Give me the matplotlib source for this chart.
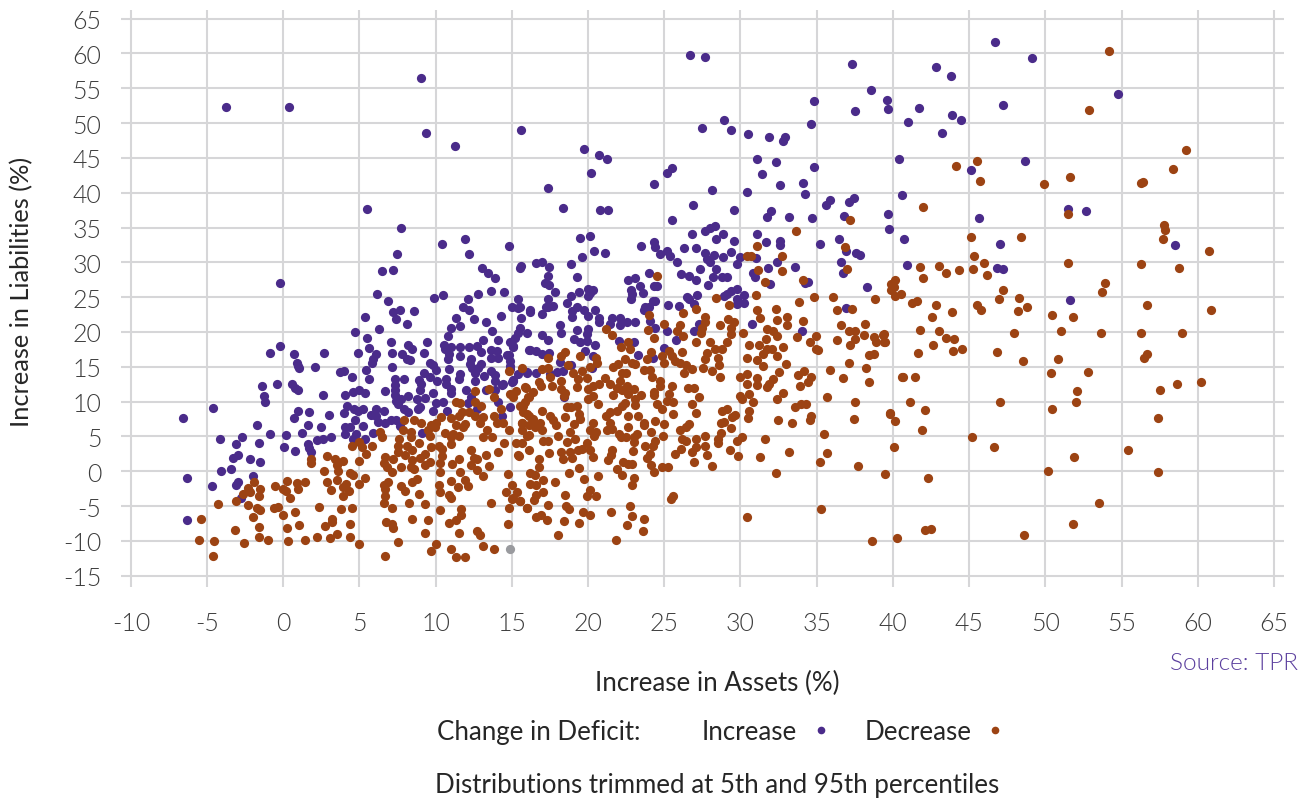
import numpy as np
import matplotlib
matplotlib.use("Agg")
import matplotlib.pyplot as plt
from matplotlib.lines import Line2D

# (assets %, liabilities %)
increase_pts = [
    (9.06,56.5),(-3.74,52.3),(0.35,52.3),(9.37,48.5),(11.25,46.7),(15.6,49.0),(5.47,37.6),(7.75,34.9),
    (10.44,32.6),(11.9,33.3),(12.2,31.2),(14.8,32.3),(7.44,31.2),(6.5,28.7),(7.18,28.9),(-0.2,27.0),
    (13.06,29.2),(13.4,28.5),(13.9,27.7),(15.6,29.5),(15.56,29.2),(6.15,25.5),(6.9,24.4),(9.9,24.9),
    (10.5,25.3),(12.1,24.8),(12.8,25.4),(13.6,25.9),(14.5,25.7),(15.4,24.8),(7.66,23.2),(8.6,23.0),
    (11.8,23.6),(12.2,23.1),(15,23.6),(15.5,23.6),(16.2,23.2),(5.36,22.2),(7.18,22.8),(7.4,21.8),
    (8.14,21.2),(11.3,22.0),(12.5,21.8),(13.3,21.5),(14.3,22.3),(15.6,22),(11,20.6),(11.6,20.9),
    (13.7,20.1),(15.5,20.6),(15.4,19.9),(16,19.8),(15.2,19.2),(10.8,19.4),(6.3,20.4),(4.7,20),
    (5.5,19.1),(7.05,18.5),(8.2,18.2),(8.45,17.5),(9.4,18.6),(10.55,18.2),(13.1,18.9),(14.1,18.8),
    (14.9,18.6),(15.1,17.9),(10.6,17.5),(11.0,17.8),(11.6,17.8),(12.2,17.8),(12.7,18),(13,17.2),
    (13.6,17.4),(14.05,17.3),(16.1,17.4),(9.2,17),(7.8,16.8),(7.1,17),(5.65,17.7),(4.9,17),(2.7,17),
    (0.68,16.8),(-0.2,18),(-0.85,17),(6.1,16.8),(5.9,16.1),(5.8,15.5),(8.1,16.1),(8.3,16),(10.9,16.8),
    (11.6,16.6),(12.3,16.1),(13.6,16.2),(14.1,16.2),(14.7,16.7),(14.9,15.9),(10.8,16.1),(9.65,15.6),
    (9.85,15.3),(12.26,15.4),(13,15.4),(14.9,15.1),(0.9,15.5),(0.95,15.1),(1,14.8),(2.1,15),(7.1,15),
    (5.4,14.6),(3.7,14.3),(3.97,14.4),(10.05,14.6),(10.9,14.7),(12.4,14.8),(12.8,14.9),(12.6,14.1),
    (13.6,14.4),(15.97,14.1),(9.2,14.1),(11.6,14),(13.2,13.7),(13.9,13.8),(4.5,13.5),(5.6,13.2),
    (7.9,13.2),(7.3,13.3),(8.9,13.1),(9.65,13.6),(10.1,13),(10.65,13.2),(11.5,13.2),(12.6,13),(13.9,13),
    (15.1,13.1),(15,12.8),(-1.4,12.2),(-0.44,12.5),(0.6,12.6),(0.77,11.9),(0.94,11.7),(7.3,12.4),
    (9.05,12.5),(10.65,12.5),(11,11.8),(14.35,12.4),(13.9,11.7),(13.3,11.7),(12,11.7),(7.3,11.7),
    (6.7,11.6),(9,11.7),(4.97,11.7),(4.55,11.4),(5.36,11.2),(2.6,11),(4.07,10.9),(9.8,11.3),(11,11.3),
    (12.3,10.6),(-1.25,10.8),(-1.17,10),(7.3,10.9),(7.4,10.1),(7.55,9.6),(8.2,10.8),(7.75,10.4),
    (8.75,10.4),(9.3,10.5),(10,9.8),(10.5,9.9),(12.1,9.8),(14.1,9.9),(-4.6,9.1),(4.15,9.4),(4.65,9),
    (5.25,9),(4.9,8.7),(6.1,8.9),(6.6,8.6),(7.95,9),(8.2,8.5),(9,9.2),(8.85,9),(9.85,8.7),(10.75,8.6),
    (12.7,9),(14.85,9.2),(0.94,8.6),(1.7,8.5),(3,8.1),(4,8.3),(-6.55,7.6),(0.68,7.6),(4.7,7.4),(5.75,8.1),
    (6.1,8),(6.2,7.1),(6.7,7),(7.05,7.3),(7.4,7.4),(14.35,8),(-1.75,6.6),(1.6,6.6),(2.5,6.4),(4.05,6.3),
    (4.4,6.4),(5.2,6.5),(7.65,6.5),(4.05,5.4),(-0.9,5.4),(0.17,5.2),(1.2,5.5),(4.8,5.3),(5.9,5.5),(9.1,5.5),
    (-2.7,4.9),(-4.15,4.7),(4.55,4.7),(5.36,4.6),(2.2,4.5),(2.6,4.7),(3.1,4.9),(-1.6,4.1),(-3.1,3.9),
    (1.65,3.9),(0.02,3.5),(1.7,3.3),(1.8,2.8),(0.8,2.9),(-2.95,2.3),(-3.3,1.9),(-2.2,1.8),(-1.5,1.3),
    (-3.4,0.3),(-4.1,0),(-2,-0.7),(-6.35,-1),(-4.65,-2.1),(-3,-1.5),(-3.1,-2),(-2.75,-3.9),(-6.3,-7),
    (26.67,59.7),(27.7,59.5),(37.3,58.5),(38.55,54.8),(34.85,53.1),(39.6,53.3),(39.65,52),(37.5,51.7),
    (34.6,49.8),(28.9,50.5),(27.5,49.3),(29.4,49),(30.5,48.4),(31.85,48),(32.9,48),(32.8,47.4),(19.7,46.3),
    (20.7,45.4),(21.25,44.8),(20.2,42.8),(25.5,43.5),(25.2,42.8),(24.35,41.2),(17.4,40.7),(28.15,40.4),
    (30.45,40.1),(31.05,44.8),(32.3,44.4),(31.4,42.7),(32.6,41.1),(34.1,41.4),(34.8,43.7),(34.25,39.8),
    (35.6,38.3),(35.85,38.9),(37.1,38.6),(37.45,39.2),(26.9,38.3),(18.35,37.8),(20.75,37.5),(21.3,37.5),
    (29.55,37.5),(32,37.4),(31.75,36.5),(33.2,36.5),(34.7,36.4),(36.8,36.6),(39.65,36.9),(25.5,36.1),
    (39.75,34.8),(28.3,35.2),(28,34.9),(27.65,34.5),(26.8,34),(28.85,34.1),(31.05,34.1),(28.4,33.3),
    (29.6,33.1),(19.5,33.5),(20.1,33.8),(24.35,32.9),(24.4,32.2),(23.5,32.3),(32.6,33),(32.6,32.5),
    (31.65,32.9),(35.2,32.6),(36.45,33.4),(36.9,31.6),(37.6,31.3),(37.85,31),(26.3,32.1),(27.1,32),
    (20.4,31.7),(21.1,31.4),(25.2,31.6),(24.75,31.2),(25.35,30.9),(19.6,30.8),(27.65,31.3),(28.25,31),
    (28.85,30.8),(29.4,31.5),(29.95,30.8),(31,30.6),(27.8,30.5),(28,30),(16.6,29.9),(17,30.1),(17.45,29.4),
    (18.85,29.7),(25.85,30),(29.8,29.7),(32.4,30),(36.6,30),(33.6,29.3),(31.8,29.2),(28.4,29.1),(27.35,29.1),
    (24,28.5),(30.8,28.5),(36.7,28.5),(26.1,28.3),(26.65,28.1),(30.95,27.9),(17.35,28),(19.25,27.9),
    (28.2,27.9),(28.8,27.9),(29.1,27.9),(27.1,27.5),(22.65,27.4),(23.05,27.7),(17.15,27),(17.45,26.7),
    (23.4,26.6),(24.3,26.6),(24.5,26.6),(27.9,26.8),(31.95,26.9),(34.2,27),(34.4,27.2),(38.3,26.4),
    (17.85,25.8),(19.4,25.7),(20,26.2),(20.35,26.1),(20.15,25.6),(20,25.2),(22.8,26),(23.6,25.6),(22.9,25.4),
    (29.8,26.2),(29.4,25.9),(29.1,25.4),(28.95,25.1),(30.2,25.3),(29.8,24.8),(27.15,25.3),(26.5,25),
    (26.6,24.7),(18.9,25.1),(17.4,24.8),(22.8,24.7),(24.4,24.5),(24.25,24.5),(18.6,24.2),(17.25,23.6),
    (17.7,23.8),(19.3,23.6),(20.45,23.2),(23.75,23.6),(25.25,23.9),(25.95,23.8),(26.95,24),(29.8,24),
    (30.2,24.1),(36.9,23.4),(15.4,23.5),(16.2,22.9),(16.95,22.6),(17.4,23.6),(18.95,23),(18.95,22.2),
    (19.7,23.2),(20,22.3),(20.7,22),(20.7,21.4),(21.55,22),(22.1,22),(21.45,21.1),(22.1,21),(22.55,21.4),
    (23.05,21.5),(23.7,23.2),(24,23.6),(24.05,21.6),(24.4,20.6),(25.2,20.1),(27.3,21.2),(26.95,20.1),
    (25.75,18.9),(22,18.7),(22.98,18.5),(23.3,16.7),(25,17.7),(24.25,16.3),(30.75,21.1),(34.05,20.1),
    (18.15,21),(18.2,19.8),(19.3,20.3),(20,20.5),(19.9,19.7),(19.1,19),(19.45,18.6),(19.9,18.7),(20.45,18.1),
    (19.8,17.3),(20.3,16.5),(15.1,18),(17,19.5),(17.4,18.9),(16.2,17.4),(16.6,17.3),(16.95,16.9),(17.45,17),
    (14.8,16.7),(18.15,15.7),(18.9,15.3),(14.9,14.7),(15.4,14),(16,14.3),(16.55,14.1),(15.1,13),(17.5,14),
    (17.95,14.3),(18.35,14.4),(20.25,14.8),(14.4,12.5),(18.45,10.6),
    (46.7,61.7),(49.1,59.3),(42.8,58.1),(43.8,56.7),(54.8,54.2),(41.7,52.1),(47.2,52.6),(43.9,51.2),
    (44.45,50.5),(41,50.1),(43.2,48.5),(40.4,44.9),(48.7,44.5),(45.15,43.2),(40.6,39.6),(51.5,37.7),
    (52.7,37.4),(45.65,36.4),(40.75,33.3),(47,32.6),(58.5,32.5),(40.9,29.6),(46.8,29.2),(47.2,29),(51.6,24.6),
]

decrease_pts = [
    (12.6,11.6),(13.5,11.8),(13.8,10.6),(14.9,11.1),(15.3,11.6),(15.9,12),(15.65,14.9),(14.8,14.4),(15.1,10.6),
    (16.1,10.6),(11.3,10),(11.6,9.8),(12.6,9.9),(13,9.4),(14.3,9),(15.7,9.4),(16,8.2),(11.7,8.5),(12.2,8.5),
    (11.5,8),(11,7.6),(12.6,8),(13.1,7.8),(13.8,8),(10.35,7.8),(7.95,7.3),(8.6,7.4),(9.05,7),(10.05,7),(9.7,6.7),
    (11.3,6.6),(11.9,6.8),(12.9,7),(14,7),(14.4,7),(15.65,6.9),(7.85,6),(8.4,5.6),(9.5,6),(9.95,6.3),(10.6,5.5),
    (11.15,5.4),(11.8,6.3),(13.35,5.9),(14.8,6),(15.65,5.9),(6.35,5.6),(6.5,4.9),(8.35,4.9),(9.65,5.1),(11,4.9),
    (11.5,5.1),(13.1,4.9),(13.7,4.9),(16,5.1),(7.6,4.7),(8.9,4),(11,3.9),(14.45,4),(15.3,4.1),(15.65,4.1),(4.5,3.6),
    (5,4.2),(5.15,3.5),(5.8,3.7),(7.5,3.7),(8.1,3.7),(10.2,3.7),(9.7,3.5),(8.45,3),(10.4,3.2),(5.4,2.5),(2.85,2.2),
    (7.5,2.8),(12.3,3),(14.1,2.7),(13.3,2.3),(15.4,2.3),(8,2.3),(9.3,2.5),(10.4,2.2),(7.2,1.8),(6.65,2),(3.4,1.8),
    (3.95,1.5),(5,1.5),(1.8,1.8),(1.8,1.2),(8.45,1.6),(9,1.9),(9.65,1.3),(11.5,1.8),(12.5,1.9),(12.7,1.7),(10.3,1.2),
    (6.6,1.2),(9.3,0.9),(7.7,0.6),(8.35,0.6),(7.15,-0.1),(6.8,0.6),(8.6,0.4),(11.1,1),(12.3,0.9),(13.5,0.7),(3.5,0.9),
    (3.6,0),(2.65,0),(4.4,-0.3),(4.55,-0.5),(10.3,-0.1),(11.6,-0.1),(12.7,0.2),(13.1,-0.7),(14.75,-0.4),(5.35,-0.9),
    (8.8,-1.1),(8.45,-1.6),(2.85,-1.6),(3.5,-1.3),(4.1,-1.8),(5,-1.8),(6.85,-1.6),(6.6,-2),(11,-1.4),(11.95,-1.3),
    (12.15,-2.1),(15,-1.9),(0.26,-1.4),(1.45,-1.6),(0.9,-1.7),(-0.57,-2.1),(-1.9,-1.6),(-2.3,-2.4),(-1.5,-2.6),(0,-2.6),
    (0.2,-2.8),(0.95,-2.5),(3.1,-2.7),(3.95,-2.2),(4.3,-2.8),(7.7,-2.1),(8,-2.9),(6.65,-2.5),(10.2,-1.9),(11.45,-2.3),
    (10.3,-3),(14.6,-3),(15.35,-3),(-2.2,-3),(-2.65,-3.3),(-1.6,-3.5),(3.95,-3.5),(6.65,-3.5),(8.9,-3.2),(10.85,-3.4),
    (0.44,-3.8),(11,-3.9),(15,-4),(15.55,-4.2),(-3.1,-4.2),(-4.3,-4.7),(-2.3,-4.9),(6.6,-4.5),(8.25,-4.6),(9.3,-4.7),
    (13.6,-4.6),(-1.75,-5.2),(-1.55,-5.5),(-0.33,-5.1),(-0.6,-5.3),(2.35,-5.1),(3.8,-5.4),(4.5,-5.3),(7.1,-5.3),(0.8,-5.8),
    (10.25,-5.6),(11.65,-5.4),(14.8,-5.2),(16,-5.3),(0,-6.3),(11.65,-6.3),(-2,-6.6),(3.2,-6.8),(8.45,-6.8),(9.5,-7),
    (-5.4,-6.9),(3.2,-7.3),(11.3,-7),(10.9,-7.4),(6.75,-7.3),(7.1,-7.6),(14.75,-7.5),(4.35,-7.6),(1.05,-7.7),(2.75,-7.9),
    (-1.6,-8),(0.26,-8.1),(7.2,-8.2),(-3.15,-8.4),(12.7,-8.5),(11.5,-8.8),(9.3,-8.8),(12.9,-9.2),(3.5,-9),(2.2,-9.5),
    (3.05,-9.6),(4.4,-9.4),(-1.6,-9.5),(-1,-9.9),(1.45,-9.9),(0.33,-10),(-5.5,-9.9),(-4.55,-10),(-2.55,-10.3),(7.55,-10.1),
    (5,-10.5),(10,-10.4),(13.1,-10.7),(11,-11.2),(13.8,-11.2),(9.7,-11.4),(6.7,-12.1),(11.3,-12.3),(11.9,-12.3),(-4.6,-12.2),
    (24.55,28.1),(31.1,32.3),(33.65,34.5),(37.2,36.1),(36.85,32.2),(32.7,30.9),(30.4,30.9),(30.7,30.9),(31.15,28.9),
    (32.75,28.8),(37,29),(34.1,27.5),(31.6,27.2),(28.4,24.9),(31,25.3),(29.25,23.9),(34.8,25),(36.05,25),(38.8,24.7),
    (33.85,24.3),(31.05,23.2),(32.35,23.3),(36.3,23.2),(37.3,23.3),(27.05,23.3),
    (24,22.5),(26.25,22.7),(27.7,22.2),(27.65,21.4),(28.65,21),(29.15,21.8),(29.55,21.4),(31.3,22),(32.4,21.7),(33.05,22.2),
    (33.05,21),(34.1,21.6),(36.6,21),(38.15,21.1),(37.15,20.2),(37.5,20.2),(38.1,19.6),(37.5,19),(36.3,18.8),(37.2,18.1),
    (38.75,19.3),(39.4,19.7),(38.9,18.5),(39.4,18.6),(34.95,19.4),(33.7,19.3),(34.55,18.6),(34.95,17.6),(35.1,17.4),
    (38.75,16.9),(38.4,16.7),(37.1,15.6),(38.25,14.9),(35.9,14.5),(36.7,13.4),(38.4,12.8),(40.6,13.5),(34.15,14.4),
    (33.8,13.8),(34.65,13.6),(34.4,12.8),(33.9,12.3),(33,15.4),(32.5,14.2),(32.8,11.2),(32.4,10.4),(35.7,10.7),(37.5,9.9),
    (34.3,9.6),(33.6,9.3),(33.95,9.7),(39.8,8.3),(37.45,7.5),(40.15,7.2),(34.65,8),(34.55,7.3),(33.4,7),(32.45,7.3),
    (35.45,5.4),(31.6,4.7),(40.1,3.5),(35.65,2.6),(33.15,2.8),(31.3,2.1),(35.2,1.3),(37.7,0.8),(32.3,-0.2),(39.5,-0.4),
    (35.3,-5.4),(30.4,-6.5),(38.65,-10),(40.3,-9.6),(25.6,-3.5),(25.45,-4),(23.65,-6.8),(22.9,-6.4),(22.75,-5),(21.5,-5.9),
    (22.55,-7.7),(23.6,-8.6),(21.8,-9.9),(18.05,-9.1),(19.4,-7.4),(18.45,-7.1),(20.15,-6.3),(19.65,-5.8),(18.75,-5.4),
    (18.55,-5),(17.4,-4.8),(17.3,-7),(16.9,-6.3),(16.55,-6.6),(16,-5.2),(15.55,-4.3),(15.1,-3.9),(16.47,-4.1),(16.6,-3.4),
    (17.05,-3),(18.5,-3.4),(19.95,-3.6),(20.5,-3.5),(20.1,-2.7),(22.85,-2),(23,-1),(20.65,-0.7),(19.7,-1.1),(17.85,-1.5),
    (17.05,-1.2),(16.6,-2),(16.2,-1.8),(16.2,-0.3),(16.5,-0.6),(18.75,-0.2),(19.4,0.5),(22.2,-0.6),(21.9,0.4),(16.8,0.6),
    (16.8,1.7),(18.25,2.7),(18.35,1.8),(18.95,1.9),(18.8,2.7),(17.45,2.6),(16.1,3.1),(15.45,2.2),(19.35,3),(19.6,3.2),
    (19.95,4.1),(20.15,3),(20.35,2.1),(21.6,3),(21.5,2.4),(21.3,1.6),(22.3,1.4),(22.65,1),(22.9,1),(22.95,2.9),(23.75,3.7),
    (24.4,4.4),(24.25,3.6),(24.05,2.5),(23.85,1.9),(24.1,0.9),(24.35,-0.1),(24.85,0.6),(25.25,0.6),(26.95,1.3),(28.15,0.8),
    (27.8,2.3),(25.7,2.5),(26.1,3.2),(26.8,2.7),(27.05,3.5),(26.45,4.3),(26.15,4.7),(27.1,4.7),(27.7,5),(27.65,3.6),(28.5,4.7),
    (28.5,4),(28.7,5.5),(29.3,3.1),(29.85,2.2),(29.75,4.3),(30.1,4.9),(26.05,5.9),(26.6,6.8),(26.4,6.3),(24.95,6.8),(24.4,7.2),
    (24.9,5.1),(24.1,5.6),(23.65,6.6),(23.7,7),(23.25,7.9),(22.65,7.9),(22.6,6.3),(23.2,5.4),(23,4.9),(23,4.2),(22.5,4.9),
    (22,5.4),(22.15,4.9),(21.25,6),(21.55,6.1),(21.45,7),(21.2,8),(21.45,8.5),(21.9,8.6),(22.2,9.4),(22.45,9.8),(23.1,9.5),
    (23.1,10.4),(23.45,10.9),(23,11.8),(22.55,12.3),(22.1,13),(22.65,11.1),(22.2,11.7),(21.65,11),(21.9,12),(21.45,12.5),
    (21.1,13.4),(20.7,12.5),(20.35,12.2),(20,11.8),(20,10.4),(20.35,10.8),(20.65,9.6),(19.95,13.4),(19.6,14.4),(19.35,13.2),
    (19,14.1),(19.25,12.1),(18.25,11.8),(18.5,11.2),(18.4,10.8),(17.65,12.3),(16.9,12.2),(16.75,12.8),(18.2,13),(17.5,13.6),
    (17,14.7),(17.35,14.9),(18.7,15.2),(19.45,16.5),(20.1,15),(20.6,15.6),(20.55,16.2),(18.5,17.2),(18.25,16.5),(17.4,16.3),
    (15.85,12.1),(16.4,11.4),(16.05,10.6),(15.5,9.4),(15.85,9.9),(16.95,8.7),(15.75,8.5),(16.1,8),(16.4,7.5),(16.85,7),
    (17.5,8),(17.7,7.3),(17.9,6.6),(15.65,6.9),(16.1,6.6),(16.1,5.2),(16.5,6.3),(16.95,5.9),(17.05,4.4),(17.4,4.4),(18.05,5.1),
    (18.6,4.2),(18.8,5.6),(18.5,7.8),(18.6,9.2),(18.9,9.3),(19.3,9.4),(19.4,8.2),(19.5,7.5),(19.15,4.7),(19.1,6.8),(20.3,7),
    (20.1,5.9),(20.55,5.6),(20.4,5.1),(23.85,16.1),(24.15,17.2),(24.3,19.1),(23.9,20.3),(24.95,21.2),(26.05,21),(25.85,20.1),
    (26.25,19.4),(27.05,18.5),(27.4,19.9),(27.5,20.6),(26.15,17.1),(25.3,17.3),(25.5,16.6),(25.7,15.9),(26.05,15.6),(26.4,15.3),
    (26.8,14.7),(26.3,14.1),(24.95,15.6),(24.85,16.5),(28,18.5),(28.35,17.5),(28.8,17.5),(29.1,18.5),(29.35,19.7),(29.35,20.6),
    (28.55,16.3),(28.6,15.3),(27.8,17),(27.7,16.1),(27.55,14.9),(28.15,14.4),(28.65,13.6),(30.15,19.9),(30.55,18.1),(31.2,18.1),
    (31.7,19),(31.75,20.5),(32.15,20.1),(32.4,19.4),(31.75,17.5),(31.5,16.8),(32.05,17.5),(32.4,16.6),(32.8,17.9),(30.4,16.3),
    (31.1,16),(31.5,15.1),(29.95,13.6),(30.4,14),(31.1,13.4),(30.45,12.5),(31.1,12.4),(31.75,12.1),(32.1,13.3),(31.85,12.5),
    (30.55,11.1),(29.95,10.8),(30.1,10.4),(30.8,9.9),(30.55,8.7),(30.5,7.7),(29.65,8.1),(29.45,7.8),(29.1,9),(28.8,8.7),(28.9,7.1),
    (28.7,7),(29.35,6.2),(27.05,8.3),(26.8,9.7),(27.25,10.7),(26.95,11.9),(26.55,12),(25.5,12.2),(25.6,8.2),(25.2,10.1),(25.6,9.9),
    (25.3,11.1),(24.75,12.2),(24.7,12.9),(24.2,13.6),(24.05,14.6),(23.7,14.5),(24.85,9),(24.5,9.7),(24.35,10.9),(24.35,11.4),
    (22.5,14.1),(22.2,14.1),(21.65,15),(21.95,15.4),(22.45,16.1),(22.85,15.6),(23.1,15.4),(22.75,17.5),(22.65,18.5),(22.15,17.8),
    (21.55,19.5),(21.15,20.5),
    (54.15,60.3),(52.9,51.9),(59.2,46.1),(58.4,43.4),(45.5,44.5),(44.15,43.8),(45.7,41.7),(51.65,42.2),(49.9,41.2),(56.3,41.4),
    (56.4,41.6),(42,38),(51.5,37),(57.8,35.4),(57.85,34.7),(57.7,33.4),(45.1,33.6),(48.4,33.7),(60.75,31.7),(45.3,30.9),(51.5,29.9),
    (56.25,29.8),(46,29.9),(58.8,29.2),(41.8,29.4),(43,29.5),(44.35,28.9),(45.25,29.1),(43.5,28.4),(46.2,28.2),(41.95,27.8),
    (40.15,27.4),(39.85,26.9),(40.05,26.4),(39.85,26),(40.15,25.1),(40.5,25.4),(53.9,27),(47.25,26.1),(53.7,25.7),(48.3,24.9),
    (46.95,24.8),(41.25,24.1),(41.55,24.4),(42.8,23.9),(45.55,23.9),(45.8,23.2),(48.8,23.6),(48.2,23),(56.65,23.9),(60.9,23.2),
    (43.9,22.8),(42.55,22.2),(50.45,22.4),(51.85,22.2),(41.8,20.3),(43,20.1),(43.5,19.2),(44,19),(47.95,19.9),(51,20.2),(53.65,19.8),
    (56.3,19.9),(58.95,19.8),(39.35,19.6),(39.45,18.6),(42.65,18.1),(41.65,17),(43.95,17.3),(44.55,17.5),(46.85,17.1),(48.55,15.8),
    (50.85,16.1),(56.65,16.9),(56.45,16.2),(50.4,14.1),(52.8,14.2),(40.65,13.5),(41.45,13.6),(52.1,11.6),(60.2,12.8),(58.65,12.5),
    (57.55,11.7),(41.15,10),(47.05,10),(52,10),(42.1,8.8),(50.45,9),(39.8,8.2),(57.4,7.6),(41.9,6),(45.2,4.9),(46.65,3.5),(55.45,3.1),
    (51.9,2.1),(50.2,0.1),(57.4,-0.1),(42.3,-0.9),(53.5,-4.6),(51.85,-7.5),(42.1,-8.4),(42.5,-8.3),(48.6,-9.2),
]

unchanged_pts = [(14.85, -11.1)]

x_ticks = list(range(-10, 70, 5))
y_ticks = list(range(-15, 70, 5))

PURPLE = "#4a2b8a"
ORANGE = "#9c4313"
GREY = "#999a9e"
GRID = "#d6d6d8"
TEXT = "#262626"
TICK = "#3c3c3c"

plt.rcParams['font.family'] = ['Lato', 'DejaVu Sans']
plt.rcParams['axes.unicode_minus'] = False

W, H = 1311, 803
fig = plt.figure(figsize=(W / 100, H / 100), dpi=100)

# panel edges in pixels, gridlines run a little past the outer ticks
left, right, top, bottom = 121, 1284, 11, 588
ax = fig.add_axes([left / W, 1 - bottom / H, (right - left) / W, (bottom - top) / H])
ax.set_xlim((left - 283.3) / 15.24, (right - 283.3) / 15.24)
ax.set_ylim((472.3 - bottom) / 6.965, (472.3 - top) / 6.965)

ax.set_xticks(x_ticks)
ax.set_yticks(y_ticks)
ax.grid(True, color=GRID, linewidth=1.5)
ax.set_axisbelow(True)
for s in ax.spines.values():
    s.set_visible(False)
ax.tick_params(length=0, labelsize=18, labelcolor=TICK)
ax.tick_params(axis='x', pad=17)
ax.tick_params(axis='y', pad=14)
for lab in ax.get_xticklabels() + ax.get_yticklabels():
    lab.set_fontweight(300)

for pts, col in [(increase_pts, PURPLE), (decrease_pts, ORANGE), (unchanged_pts, GREY)]:
    arr = np.array(pts)
    ax.scatter(arr[:, 0], arr[:, 1], s=44, color=col, linewidths=0, zorder=3, clip_on=False)

fig.text(717 / W, 1 - 683 / H, "Increase in Assets (%)", ha='center', va='center', fontsize=18.6, color=TEXT)
fig.text(22 / W, 1 - 292 / H, "Increase in Liabilities (%)", ha='center', va='center', rotation=90, fontsize=18.3, color=TEXT)
fig.text(1298 / W, 1 - 664 / H, "Source: TPR", ha='right', va='center', fontsize=17.6, color="#5b3f9e", fontweight=300)
fig.text(437 / W, 1 - 733 / H, "Change in Deficit:", ha='left', va='center', fontsize=18.6, color=TEXT)
fig.text(717 / W, 1 - 786 / H, "Distributions trimmed at 5th and 95th percentiles", ha='center', va='center', fontsize=18.6, color=TEXT)

handles = [
    Line2D([], [], linestyle='', marker='o', markersize=5.5, color=PURPLE, markeredgewidth=0, label="Increase"),
    Line2D([], [], linestyle='', marker='o', markersize=5.5, color=ORANGE, markeredgewidth=0, label="Decrease"),
]
leg = fig.legend(handles=handles, ncols=2, markerfirst=False, frameon=False, fontsize=18.6,
                 loc='center left', bbox_to_anchor=(702 / W, 1 - 733 / H), borderaxespad=0, borderpad=0,
                 handletextpad=0.4, columnspacing=1.2, handlelength=1.0, labelcolor=TEXT)

fig.savefig("out.png", dpi=100, facecolor="white")
